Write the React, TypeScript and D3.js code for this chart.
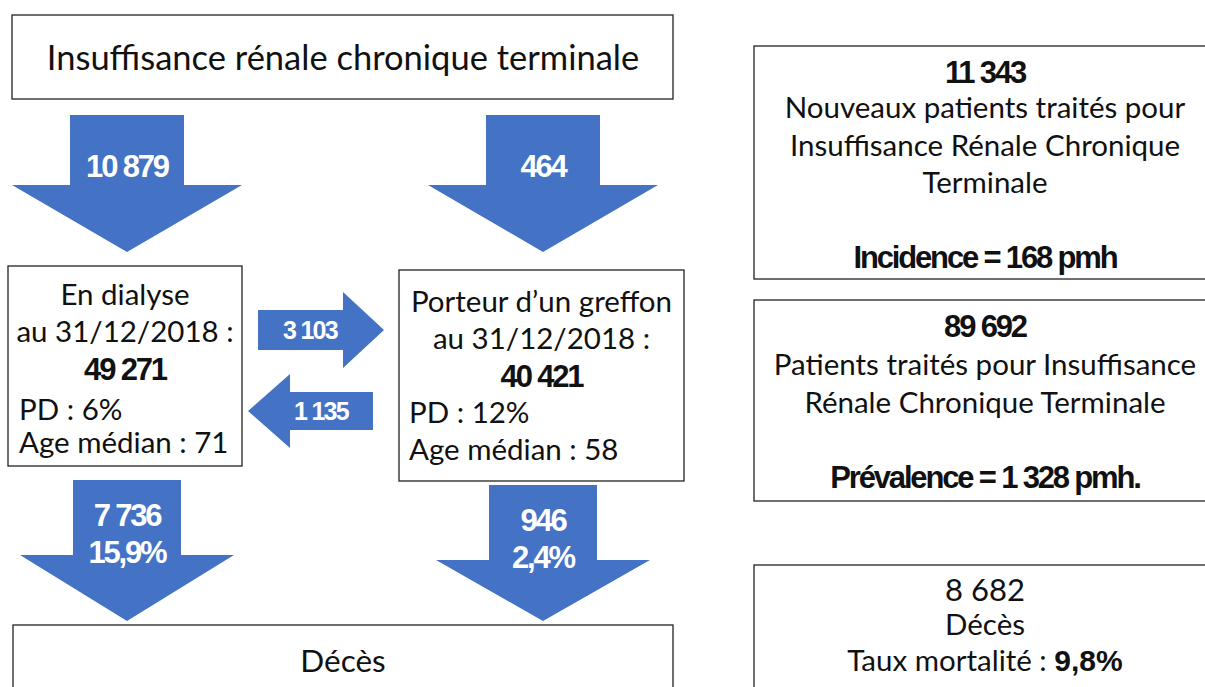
import { useEffect, useRef } from 'react';
import * as d3 from 'd3';

// values
const title = 'Insuffisance rénale chronique terminale';
const columns = ['dialyse', 'greffe'];
const incoming = ['10 879', '464'];
const stockHead = ['En dialyse', 'Porteur d\u2019un greffon'];
const stockDate = ['au 31/12/2018 :', 'au 31/12/2018 :'];
const stockCount = ['49 271', '40 421'];
const stockPD = ['PD : 6%', 'PD : 12%'];
const stockAge = ['Age médian : 71', 'Age médian : 58'];
const transfers = ['3 103', '1 135'];
const deaths = ['7 736', '946'];
const deathRates = ['15,9%', '2,4%'];
const deathLabel = 'Décès';
const summaryHead = ['11 343', '89 692', '8 682'];
const summaryLines = [
  ['Nouveaux patients traités pour', 'Insuffisance Rénale Chronique', 'Terminale'],
  ['Patients traités pour Insuffisance', 'Rénale Chronique Terminale'],
  ['Décès'],
];
const summaryFoot = ['Incidence = 168 pmh', 'Prévalence = 1 328 pmh.', ''];

const BLUE = '#4472C4';
const BODY = 'Lato, "Open Sans", sans-serif';
const NUM = '"Liberation Sans", Arial, sans-serif';

const App = () => {
  const ref = useRef<SVGSVGElement | null>(null);

  useEffect(() => {
    if (!ref.current) return;
    const width = 1205;
    const height = 687;
    const svg = d3.select(ref.current);
    svg.selectAll('*').remove();
    svg.attr('width', width).attr('height', height);

    const x = d3.scalePoint<string>().domain(columns).range([127, 543]);

    const downArrow = (cx: number, hw: number, headHw: number, y0: number, yNeck: number, yTip: number) => {
      const p = d3.path();
      p.moveTo(cx - hw, y0);
      p.lineTo(cx + hw, y0);
      p.lineTo(cx + hw, yNeck);
      p.lineTo(cx + headHw, yNeck);
      p.lineTo(cx, yTip);
      p.lineTo(cx - headHw, yNeck);
      p.lineTo(cx - hw, yNeck);
      p.closePath();
      return p.toString();
    };
    const sideArrow = (xTail: number, xNeck: number, xTip: number, cy: number, hh: number, headHh: number) => {
      const p = d3.path();
      p.moveTo(xTail, cy - hh);
      p.lineTo(xNeck, cy - hh);
      p.lineTo(xNeck, cy - headHh);
      p.lineTo(xTip, cy);
      p.lineTo(xNeck, cy + headHh);
      p.lineTo(xNeck, cy + hh);
      p.lineTo(xTail, cy + hh);
      p.closePath();
      return p.toString();
    };

    const box = (x0: number, y0: number, w: number, h: number) =>
      svg
        .append('rect')
        .attr('x', x0)
        .attr('y', y0)
        .attr('width', w)
        .attr('height', h)
        .attr('fill', '#fff')
        .attr('stroke', '#222')
        .attr('stroke-width', 1.3);

    const text = (
      s: string,
      tx: number,
      ty: number,
      opts: { size?: number; bold?: boolean; anchor?: string; fill?: string; font?: string; ls?: number } = {}
    ) =>
      svg
        .append('text')
        .attr('x', tx)
        .attr('y', ty)
        .attr('dy', '0.35em')
        .attr('text-anchor', opts.anchor ?? 'middle')
        .attr('font-family', opts.font ?? BODY)
        .attr('font-size', opts.size ?? 29)
        .attr('font-weight', opts.bold ? 'bold' : 'normal')
        .attr('letter-spacing', opts.ls ?? 0)
        .attr('fill', opts.fill ?? '#111')
        .text(s);

    const num = (s: string, tx: number, ty: number, size: number, fill = '#111') =>
      text(s, tx, ty, { size, bold: true, fill, font: NUM, ls: -0.07 * size });

    // title box
    box(12, 15, 661, 84);
    text(title, 343, 58, { size: 34.5 });

    // incoming arrows
    columns.forEach((c, i) => {
      const cx = x(c)!;
      svg.append('path').attr('d', downArrow(cx, 57, 115, 115, 185, 252)).attr('fill', BLUE);
      num(incoming[i], cx, 166, 31, '#fff');
    });

    // stock boxes
    const stockBoxes = [
      { x0: 8, y0: 266, w: 234, h: 200, lx: 19, ys: [295, 332, 369, 410, 443] },
      { x0: 399, y0: 270, w: 285, h: 211, lx: 409, ys: [302, 339, 376, 413, 450] },
    ];
    stockBoxes.forEach((b, i) => {
      box(b.x0, b.y0, b.w, b.h);
      const mid = b.x0 + b.w / 2;
      text(stockHead[i], mid, b.ys[0], { size: 29.5 });
      text(stockDate[i], mid, b.ys[1], { size: 29.5 });
      num(stockCount[i], mid, b.ys[2], 31);
      text(stockPD[i], b.lx, b.ys[3], { size: 29.5, anchor: 'start' });
      text(stockAge[i], b.lx, b.ys[4], { size: 29.5, anchor: 'start' });
    });

    // transfers
    svg.append('path').attr('d', sideArrow(258, 343, 384, 330, 20, 38)).attr('fill', BLUE);
    num(transfers[0], 310, 330, 25, '#fff');
    svg.append('path').attr('d', sideArrow(373, 290, 248, 411, 19, 37)).attr('fill', BLUE);
    num(transfers[1], 321, 411, 25, '#fff');

    // death arrows
    columns.forEach((c, i) => {
      const cx = x(c)!;
      const top = i === 0 ? 480 : 485;
      svg.append('path').attr('d', downArrow(cx, 54, 107, top, top + 75, 621)).attr('fill', BLUE);
      num(deaths[i], cx, top + 35, 31, '#fff');
      num(deathRates[i], cx, top + 72, 31, '#fff');
    });

    // deaths box
    box(13, 625, 660, 80);
    text(deathLabel, 343, 661, { size: 31.5 });

    // summary boxes on the right
    const summaryBoxes = [
      { y0: 46, h: 233, ys: [72, 108, 146, 183], foot: 257 },
      { y0: 300, h: 201, ys: [326, 365, 403], foot: 477 },
      { y0: 565, h: 140, ys: [590, 625], foot: 661 },
    ];
    const sx = 985;
    summaryBoxes.forEach((b, i) => {
      box(754, b.y0, 470, b.h);
      if (i < 2) num(summaryHead[i], sx, b.ys[0], 31);
      else text(summaryHead[i], sx, b.ys[0], { size: 31 });
      summaryLines[i].forEach((l, j) => text(l, sx, b.ys[j + 1], { size: 29.5 }));
      if (summaryFoot[i]) num(summaryFoot[i], sx, b.foot, 31);
    });
    // mortality line with bold value
    const t = svg
      .append('text')
      .attr('x', sx)
      .attr('y', 661)
      .attr('dy', '0.35em')
      .attr('text-anchor', 'middle')
      .attr('font-family', BODY)
      .attr('font-size', 29.5)
      .attr('fill', '#111');
    t.append('tspan').text('Taux mortalité : ');
    t.append('tspan').attr('font-family', NUM).attr('font-weight', 'bold').attr('font-size', 30).text('9,8%');
  }, []);

  return <svg ref={ref} style={{ position: 'absolute', left: 0, top: 0 }} />;
};

export default App;
